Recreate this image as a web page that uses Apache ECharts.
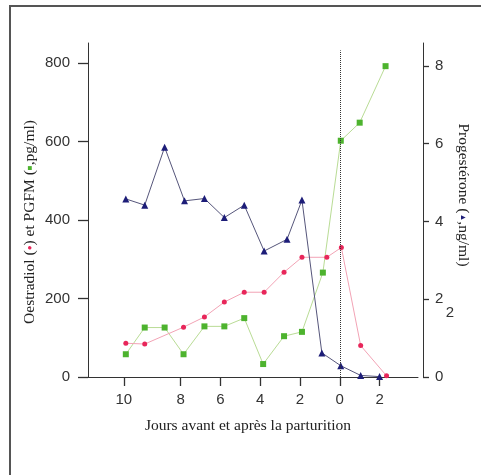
<!DOCTYPE html>
<html>
<head>
<meta charset="utf-8">
<script src="https://cdn.jsdelivr.net/npm/echarts@6/dist/echarts.min.js"></script>
<style>html,body{margin:0;padding:0;background:#fff;}#c{width:481px;height:475px;}</style>
</head>
<body>
<div id="c"></div>
<script>
// Days relative to parturition (negative = before)
const dayProg = [-10.75,-9.8,-8.8,-7.8,-6.8,-5.8,-4.8,-3.8,-2.65,-1.9,-0.9,0.05,1.05,2.0];
const progesterone = [4.58,4.42,5.91,4.53,4.59,4.10,4.42,3.24,3.54,4.55,0.62,0.29,0.04,0.01];

const dayOest = [-10.75,-9.8,-7.85,-6.8,-5.8,-4.8,-3.8,-2.8,-1.9,-0.65,0.08,1.05,2.35];
const oestradiol = [86,84,127,153,191,216,216,267,305,305,330,80,3];

const dayPgfm = [-10.75,-9.8,-8.8,-7.85,-6.8,-5.8,-4.8,-3.85,-2.8,-1.9,-0.85,0.05,1.0,2.3];
const pgfm = [58,126,126,58,129,129,150,33,104,115,266,602,648,792];

const xTickValues = [-10.85,-8,-6,-4,-2,0,2];
const xTickLabels = ['10','8','6','4','2','0','2'];
const leftTicks = [0,200,400,600,800];
const rightTicks = [0,2,4,6,8];

const pair = (xs, ys) => xs.map((x, i) => [x, ys[i]]);

const chart = echarts.init(document.getElementById('c'), null, {renderer: 'canvas'});
const sans = '"Liberation Sans", Arial, sans-serif';
const serif = '"Liberation Serif", "Times New Roman", serif';

chart.setOption({
  backgroundColor: '#fff',
  animation: false,
  grid: {left: 88, right: 63, top: 43, bottom: 98},
  xAxis: {
    type: 'value', min: -12.65, max: 3.93,
    axisLine: {show: true, onZero: false, lineStyle: {color: '#333', width: 1}},
    axisTick: {show: true, length: 9, lineStyle: {color: '#333', width: 1.3}, customValues: xTickValues},
    axisLabel: {
      customValues: xTickValues, margin: 15, color: '#333',
      fontFamily: sans, fontSize: 15,
      formatter: v => { const i = xTickValues.indexOf(v); return i >= 0 ? xTickLabels[i] : ''; }
    },
    splitLine: {show: false}
  },
  yAxis: [
    {
      type: 'value', min: 0, max: 851, position: 'left',
      axisLine: {show: true, onZero: false, lineStyle: {color: '#333', width: 1}},
      axisTick: {show: true, length: 10, lineStyle: {color: '#333', width: 1.3}, customValues: leftTicks},
      axisLabel: {customValues: leftTicks, margin: 18, color: '#333', fontFamily: sans, fontSize: 15},
      splitLine: {show: false}
    },
    {
      type: 'value', min: 0, max: 8.59, position: 'right', offset: 5,
      axisLine: {show: true, onZero: false, lineStyle: {color: '#333', width: 1}},
      axisTick: {show: true, length: 6, lineStyle: {color: '#333', width: 1.3}, customValues: rightTicks},
      axisLabel: {customValues: rightTicks, margin: 12, color: '#333', fontFamily: sans, fontSize: 15},
      splitLine: {show: false}
    }
  ],
  series: [
    {
      name: 'PGFM', type: 'line', yAxisIndex: 0,
      data: pair(dayPgfm, pgfm),
      symbol: 'rect', symbolSize: 6,
      itemStyle: {color: '#4db32e'},
      lineStyle: {color: '#b9dc95', width: 1}
    },
    {
      name: 'Oestradiol', type: 'line', yAxisIndex: 0,
      data: pair(dayOest, oestradiol),
      symbol: 'circle', symbolSize: 5,
      itemStyle: {color: '#e8265a'},
      lineStyle: {color: '#f2a3b5', width: 1}
    },
    {
      name: 'Progestérone', type: 'line', yAxisIndex: 1,
      data: pair(dayProg, progesterone),
      symbol: 'triangle', symbolSize: 7,
      itemStyle: {color: '#1d1d78'},
      lineStyle: {color: '#55557a', width: 1},
      markLine: {
        silent: true, symbol: 'none', label: {show: false},
        lineStyle: {color: '#333', type: 'dotted', width: 1},
        data: [[{coord: [0, 0]}, {coord: [0, 8.4]}]]
      }
    }
  ],
  graphic: [
    {type: 'rect', shape: {x: 10, y: 6, width: 500, height: 500}, style: {fill: 'none', stroke: '#555', lineWidth: 2}, silent: true},
    {
      type: 'text', x: 30, y: 222, rotation: Math.PI / 2,
      style: {
        text: 'Oestradiol ({r|●}) et PGFM ({g|■},pg/ml)',
        fill: '#222', font: '15.5px ' + serif, align: 'center', verticalAlign: 'middle',
        rich: {
          r: {fill: '#e8265a', fontSize: 8, fontFamily: serif},
          g: {fill: '#4db32e', fontSize: 8, fontFamily: serif}
        }
      }
    },
    {
      type: 'text', x: 463, y: 195, rotation: -Math.PI / 2,
      style: {
        text: 'Progestérone ({b|▲},ng/ml)',
        fill: '#222', font: '15.5px ' + serif, align: 'center', verticalAlign: 'middle',
        rich: {b: {fill: '#1d1d78', fontSize: 8, fontFamily: sans}}
      }
    },
    {
      type: 'text', x: 248, y: 426,
      style: {text: 'Jours avant et après la parturition', fill: '#222', font: '15.5px ' + serif, align: 'center', verticalAlign: 'middle'}
    },
    {
      type: 'text', x: 450, y: 313,
      style: {text: '2', fill: '#333', font: '15px ' + sans, align: 'center', verticalAlign: 'middle'}
    }
  ]
});
</script>
</body>
</html>
